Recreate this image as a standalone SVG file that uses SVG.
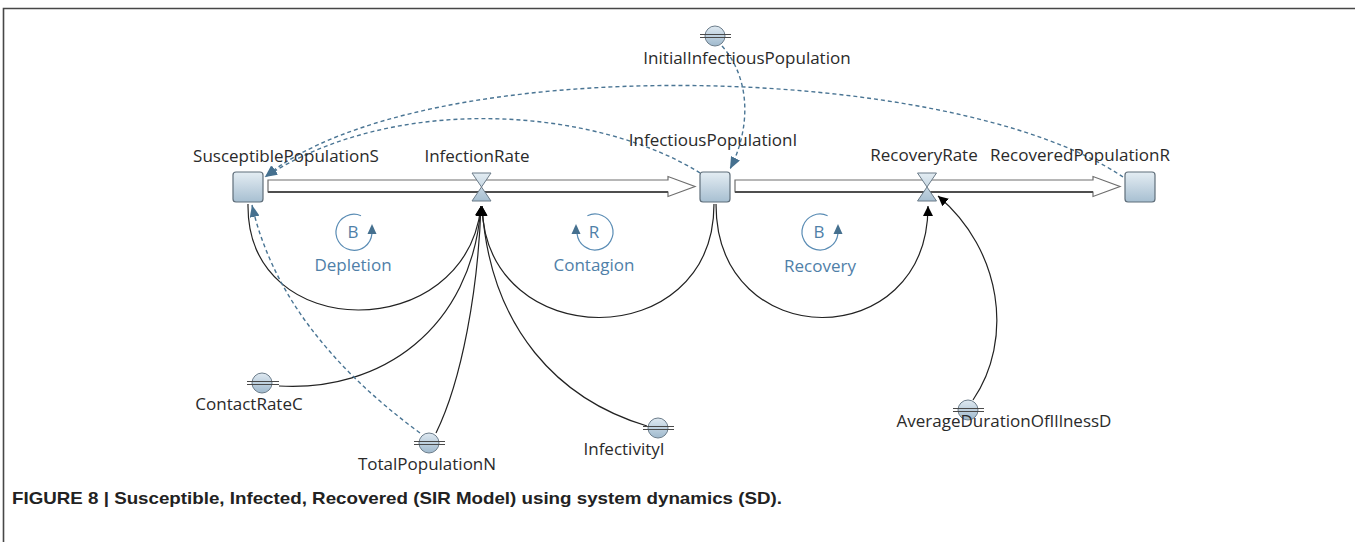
<svg xmlns="http://www.w3.org/2000/svg" width="1355" height="542" viewBox="0 0 1355 542">
  <defs>
    <linearGradient id="stockFill" x1="0" y1="0" x2="0" y2="1">
      <stop offset="0" stop-color="#e4edf3"/>
      <stop offset="1" stop-color="#a7bfd1"/>
    </linearGradient>
    <linearGradient id="auxFill" x1="0" y1="0" x2="0" y2="1">
      <stop offset="0" stop-color="#dfe9f1"/>
      <stop offset="1" stop-color="#9fb9cd"/>
    </linearGradient>
    <marker id="solidHead" viewBox="0 0 10 10" refX="10" refY="5" markerWidth="10" markerHeight="10" markerUnits="userSpaceOnUse" orient="auto">
      <path d="M0,0 L10,5 L0,10 Z" fill="#000"/>
    </marker>
    <marker id="dashHead" viewBox="0 0 12 10" refX="12" refY="5" markerWidth="12" markerHeight="10" markerUnits="userSpaceOnUse" orient="auto">
      <path d="M0,0 L12,5 L0,10 Z" fill="#45708f"/>
    </marker>
    <style>
      .lbl { font-family: "Open Sans", "Noto Sans", "DejaVu Sans", sans-serif; font-size: 17px; fill: #2a2a2a; text-anchor: middle; }
      .loop { font-family: "Open Sans", "Noto Sans", "DejaVu Sans", sans-serif; font-size: 17px; fill: #4f80a8; text-anchor: middle; }
      .stock { fill: url(#stockFill); stroke: #5f6e7a; stroke-width: 1.2; }
      .valve { fill: url(#stockFill); stroke: #6b7b88; stroke-width: 1; }
      .aux { fill: url(#auxFill); stroke: #6c7d8b; stroke-width: 1; }
      .auxbar { stroke: #4a4a4a; stroke-width: 1.2; fill: none; }
      .pipe { fill: #fff; stroke: #6e6e6e; stroke-width: 1.2; }
      .pipeshade { stroke: #4f4f4f; stroke-width: 2; fill: none; }
      .link { fill: none; stroke: #222; stroke-width: 1.2; marker-end: url(#solidHead); }
      .dlink { fill: none; stroke: #4a7594; stroke-width: 1.4; stroke-dasharray: 4 3; marker-end: url(#dashHead); }
      .looparc { fill: none; stroke: #5b8db5; stroke-width: 1.2; }
      .looptip { fill: #45708f; }
      .frame { stroke: #474747; stroke-width: 1.6; fill: none; }
      .caption { font-family: "Liberation Sans Narrow", "Liberation Sans", "Arial", sans-serif; font-weight: bold; font-size: 17px; fill: #222; }
    </style>
  </defs>

  <rect width="1355" height="542" fill="#fff"/>

  <!-- page frame -->
  <path class="frame" d="M3.5,542 V8.5 H1355"/>

  <!-- flow pipes -->
  <g id="flow-infection">
    <path class="pipe" d="M268,180 H668 V176.5 L695,186.5 L668,196.5 V192 H268 Z"/>
    <path class="pipeshade" d="M268,192 H668"/>
  </g>
  <g id="flow-recovery">
    <path class="pipe" d="M735,180 H1093 V176.5 L1120,186.5 L1093,196.5 V192 H735 Z"/>
    <path class="pipeshade" d="M735,192 H1093"/>
  </g>

  <!-- connectors -->
  <g id="connectors">
    <path class="link" d="M248,204 C246,345 466,345 481,206"/>
    <path class="link" d="M714,204 C714,355 486,355 482,206"/>
    <path class="link" d="M716,204 C716,355 928,355 928,206"/>
    <path class="link" d="M279,386 C380,392 472,330 481,206"/>
    <path class="link" d="M436,433 C462,380 478,290 481,206"/>
    <path class="link" d="M647,426 C560,400 490,330 482,206"/>
    <path class="link" d="M973,400 C1014,340 1002,250 938,196"/>
    <path class="dlink" d="M1123,177 C950,60 420,50 265,177"/>
    <path class="dlink" d="M700,173 C600,110 400,90 265,177"/>
    <path class="dlink" d="M722,46 C752,80 750,130 730,169"/>
    <path class="dlink" d="M420,433 Q280,330 252,205"/>
  </g>

  <!-- stocks -->
  <g id="SusceptiblePopulationS">
    <rect class="stock" x="233" y="172" width="30" height="30" rx="3"/>
    <text class="lbl" x="286" y="162">SusceptiblePopulationS</text>
  </g>
  <g id="InfectiousPopulationI">
    <rect class="stock" x="700" y="172" width="30" height="30" rx="3"/>
    <text class="lbl" x="713" y="146">InfectiousPopulationI</text>
  </g>
  <g id="RecoveredPopulationR">
    <rect class="stock" x="1125" y="172" width="30" height="30" rx="3"/>
    <text class="lbl" x="1080" y="161">RecoveredPopulationR</text>
  </g>

  <!-- valves -->
  <g id="InfectionRate">
    <path class="valve" d="M472,173 H491 L481.5,187 Z M472,201 H491 L481.5,187 Z"/>
    <text class="lbl" x="477" y="162">InfectionRate</text>
  </g>
  <g id="RecoveryRate">
    <path class="valve" d="M917.5,173 H936.5 L927,187 Z M917.5,201 H936.5 L927,187 Z"/>
    <text class="lbl" x="924" y="161">RecoveryRate</text>
  </g>

  <!-- auxiliaries -->
  <g id="InitialInfectiousPopulation">
    <circle class="aux" cx="715" cy="36" r="10"/>
    <path class="auxbar" d="M700,34.5 H731 M700,37.5 H731"/>
    <text class="lbl" x="747" y="64">InitialInfectiousPopulation</text>
  </g>
  <g id="ContactRateC">
    <circle class="aux" cx="262" cy="383" r="10"/>
    <path class="auxbar" d="M247,381.5 H279 M247,384.5 H279"/>
    <text class="lbl" x="249" y="410">ContactRateC</text>
  </g>
  <g id="TotalPopulationN">
    <circle class="aux" cx="429" cy="443" r="10"/>
    <path class="auxbar" d="M414,441.5 H445 M414,444.5 H445"/>
    <text class="lbl" x="427" y="470">TotalPopulationN</text>
  </g>
  <g id="InfectivityI">
    <circle class="aux" cx="658" cy="428" r="10"/>
    <path class="auxbar" d="M643,426.5 H674 M643,429.5 H674"/>
    <text class="lbl" x="624" y="455">InfectivityI</text>
  </g>
  <g id="AverageDurationOfIllnessD">
    <circle class="aux" cx="968" cy="410" r="10"/>
    <path class="auxbar" d="M953,408.5 H984 M953,411.5 H984"/>
    <text class="lbl" x="1004" y="427">AverageDurationOfIllnessD</text>
  </g>

  <!-- loop markers -->
  <g id="loop-Depletion">
    <path class="looparc" d="M361,215.7 A18,18 0 1 0 371.9,233.9"/>
    <path class="looptip" d="M372,224 L376.5,234 L367.5,234 Z"/>
    <text class="loop" x="353" y="238">B</text>
    <text class="loop" x="353" y="271">Depletion</text>
  </g>
  <g id="loop-Contagion">
    <path class="looparc" d="M587.4,215.7 A18,18 0 1 1 577.1,233.9"/>
    <path class="looptip" d="M576,224 L580.5,234 L571.5,234 Z"/>
    <text class="loop" x="594" y="238">R</text>
    <text class="loop" x="594" y="271">Contagion</text>
  </g>
  <g id="loop-Recovery">
    <path class="looparc" d="M827.6,215.7 A18,18 0 1 0 837.9,233.9"/>
    <path class="looptip" d="M838,224 L842.5,234 L833.5,234 Z"/>
    <text class="loop" x="819" y="238">B</text>
    <text class="loop" x="820" y="272">Recovery</text>
  </g>

  <text class="caption" x="12" y="504" textLength="770" lengthAdjust="spacingAndGlyphs">FIGURE 8 | Susceptible, Infected, Recovered (SIR Model) using system dynamics (SD).</text>
</svg>
